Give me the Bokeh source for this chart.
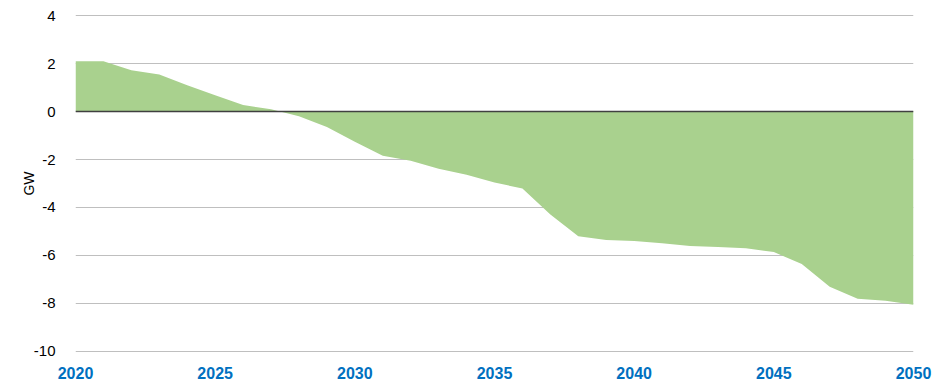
from bokeh.plotting import figure
from bokeh.models import Span, FixedTicker, Range1d
from bokeh.embed import file_html
from bokeh.resources import INLINE

years = list(range(2020, 2051))
values = [2.1, 2.1, 1.72, 1.55, 1.1, 0.68, 0.27, 0.1, -0.19, -0.64,
          -1.26, -1.84, -2.05, -2.38, -2.63, -2.96, -3.21, -4.29, -5.2, -5.36,
          -5.4, -5.49, -5.61, -5.65, -5.7, -5.86, -6.36, -7.31, -7.81, -7.89,
          -8.06]
y_ticks = [4, 2, 0, -2, -4, -6, -8, -10]
x_ticks = [2020, 2025, 2030, 2035, 2040, 2045, 2050]

p = figure(width=935, height=381, output_backend="svg", toolbar_location=None,
           x_range=Range1d(2020, 2050), y_range=Range1d(-10.05, 4.05),
           min_border_left=75, min_border_right=22, min_border_top=14,
           min_border_bottom=27)
p.outline_line_color = None
p.background_fill_color = "white"

zeros = [0] * len(years)
p.varea(x=years, y1=zeros, y2=values, fill_color="#a9d18e", fill_alpha=1.0)

p.add_layout(Span(location=0, dimension="width", line_color="#404040", line_width=1.5))

p.xgrid.grid_line_color = None
p.ygrid.grid_line_color = "#bfbfbf"
p.ygrid.grid_line_width = 1
p.ygrid.ticker = FixedTicker(ticks=y_ticks)

p.yaxis.ticker = FixedTicker(ticks=y_ticks)
p.yaxis.major_label_overrides = {t: str(t) for t in y_ticks}
p.xaxis.ticker = FixedTicker(ticks=x_ticks)
for ax in (p.xaxis, p.yaxis):
    ax.axis_line_color = None
    ax.major_tick_line_color = None
    ax.minor_tick_line_color = None

p.yaxis.major_label_text_font = "Liberation Sans"
p.yaxis.major_label_text_font_size = "15px"
p.yaxis.major_label_text_color = "black"
p.yaxis.major_label_standoff = 14
p.yaxis.axis_label = "GW"
p.yaxis.axis_label_text_font = "Liberation Sans"
p.yaxis.axis_label_text_font_size = "14px"
p.yaxis.axis_label_text_font_style = "normal"
p.yaxis.axis_label_text_color = "black"
p.yaxis.axis_label_standoff = -6

p.xaxis.major_label_text_font = "Liberation Sans"
p.xaxis.major_label_text_font_size = "16px"
p.xaxis.major_label_text_font_style = "bold"
p.xaxis.major_label_text_color = "#0070c0"
p.xaxis.major_label_standoff = 8

open("out.html", "w").write(file_html(p, INLINE))
